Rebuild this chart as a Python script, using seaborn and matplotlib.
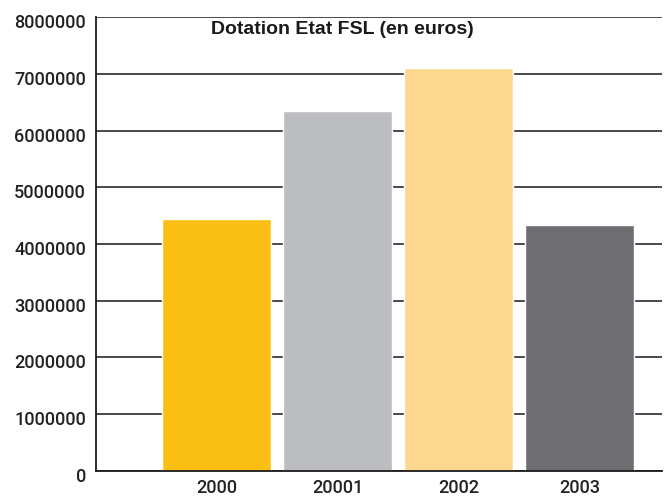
import matplotlib
matplotlib.use("Agg")
import matplotlib.pyplot as plt
import matplotlib.transforms as mtransforms
import seaborn as sns
import pandas as pd

categories = ["2000", "20001", "2002", "2003"]
values = [4440000, 6350000, 7110000, 4335000]
colors = ["#FBBF14", "#BCBDC0", "#FDD990", "#6E6E72"]
yticks = [0, 1000000, 2000000, 3000000, 4000000, 5000000, 6000000, 7000000, 8000000]
title = "Dotation Etat FSL (en euros)"

sns.set_theme(style="white")
plt.rcParams['font.family'] = ['Liberation Sans', 'DejaVu Sans']

df = pd.DataFrame({"cat": categories, "val": values})

W, H = 667, 498
left_px, right_px, top_px, zero_px = 95.7, 662, 17.3, 470.7
fig = plt.figure(figsize=(W / 100, H / 100), dpi=100)
ax = fig.add_axes([left_px / W, 1 - zero_px / H, (right_px - left_px) / W, (zero_px - top_px) / H])

for y in yticks:
    ax.axhline(y, color="#2a2a2a", lw=1.2, zorder=0)

sns.barplot(data=df, x="cat", y="val", hue="cat", palette=colors, legend=False,
            width=0.9, saturation=1, ax=ax, zorder=2)

tick_font = dict(family=['Roboto', 'Liberation Sans', 'DejaVu Sans'], weight=500, size=13)

ax.set_xlim(-1.0, 3.68)
ax.set_ylim(0, 8000000)
ax.set_yticks(yticks)
ax.set_yticklabels([str(v) for v in yticks], color="#222222", fontdict=tick_font)
ax.set_xticks(range(len(categories)))
ax.set_xticklabels(categories, color="#222222", fontdict=tick_font)
ax.tick_params(axis="both", length=0)
ax.tick_params(axis="y", pad=7)
ax.tick_params(axis="x", pad=6)
ax.set_xlabel("")
ax.set_ylabel("")

offset = mtransforms.ScaledTranslation(0, -4 / 100, fig.dpi_scale_trans)
for lbl in ax.get_yticklabels():
    lbl.set_transform(lbl.get_transform() + offset)

for s in ["top", "right"]:
    ax.spines[s].set_visible(False)
for s in ["left", "bottom"]:
    ax.spines[s].set_color("#1a1a1a")
    ax.spines[s].set_linewidth(1.3)

ax.text((211 - left_px) / (right_px - left_px), 1 - (30 - top_px) / (zero_px - top_px), title,
        transform=ax.transAxes, ha="left", va="center",
        fontsize=14, fontweight="bold", color="#1a1a1a")

fig.savefig("out.png", dpi=100)
